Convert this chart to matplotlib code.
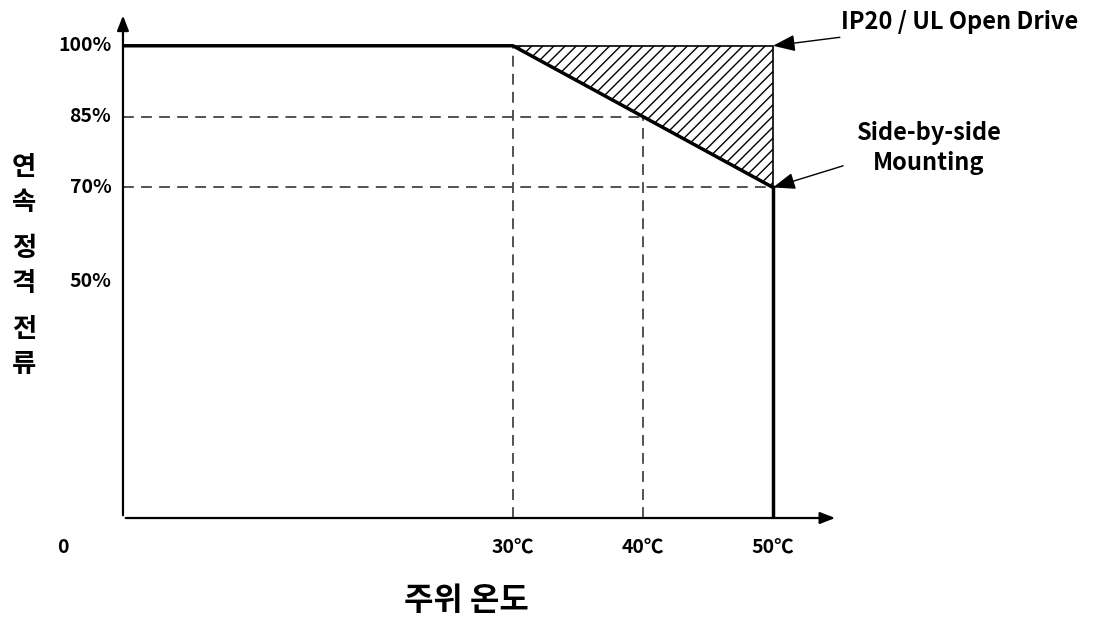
import numpy as np
import matplotlib.pyplot as plt
from matplotlib.patches import Polygon

plt.rcParams['font.family'] = ['Noto Sans CJK KR', 'DejaVu Sans']
plt.rcParams['hatch.linewidth'] = 1.0

# ------------------------
# Derating data
# ------------------------
temps = [0, 30, 50]                 # ambient temperature (degC)
current = [100, 100, 70]            # continuous rated current (%)
y_ticks = [50, 70, 85, 100]
y_tick_labels = ["50%", "70%", "85%", "100%"]
x_ticks = [30, 40, 50]
x_tick_labels = ["30℃", "40℃", "50℃"]
ref_40_current = 85                 # current at 40 degC
y_title_words = ["연속", "정격", "전류"]

fig = plt.figure(figsize=(10.98, 6.2), dpi=100)
ax = fig.add_axes([0.112, 0.1645, 0.663, 0.8226])
ax.set_xlim(0, 56)
ax.set_ylim(0, 108)
ax.axis("off")

dash = dict(color="#444444", lw=1.3, ls=(0, (6, 4)))

# guide lines
ax.plot([temps[1], temps[1]], [0, current[1]], **dash)
ax.plot([x_ticks[1], x_ticks[1]], [0, ref_40_current], **dash)
ax.plot([0, x_ticks[1]], [ref_40_current, ref_40_current], **dash)
ax.plot([0, temps[2]], [current[2], current[2]], **dash)

# hatched open-drive region
tri = Polygon([[temps[1], current[1]], [temps[2], current[0]], [temps[2], current[2]]],
              closed=True, facecolor="white", edgecolor="black", lw=1.2, hatch="///")
ax.add_patch(tri)

# derating curve
ax.plot(temps, current, color="black", lw=2.5, solid_capstyle="butt")
ax.plot([temps[2], temps[2]], [0, current[2]], color="black", lw=2.5)

# axes with arrowheads
ax.annotate("", xy=(55, 0), xytext=(0, 0),
            arrowprops=dict(arrowstyle="-|>,head_length=0.9,head_width=0.35", color="black", lw=1.6),
            annotation_clip=False)
ax.annotate("", xy=(0, 107), xytext=(0, 0),
            arrowprops=dict(arrowstyle="-|>,head_length=0.9,head_width=0.35", color="black", lw=1.6),
            annotation_clip=False)

# tick labels
for v, lab in zip(y_ticks, y_tick_labels):
    ax.text(-0.9, v, lab, ha="right", va="center", fontsize=14, fontweight="bold")
for v, lab in zip(x_ticks, x_tick_labels):
    ax.text(v, -6.3, lab, ha="center", va="center", fontsize=14, fontweight="bold")
ax.text(-4.6, -6.3, "0", ha="center", va="center", fontsize=14, fontweight="bold")

# annotations
ax.annotate("IP20 / UL Open Drive", xy=(temps[2], current[0]), xytext=(55.2, 105.0),
            ha="left", va="center", fontsize=17, fontweight="bold",
            arrowprops=dict(arrowstyle="-|>,head_length=0.8,head_width=0.3", color="black", lw=1.0,
                            shrinkA=2, shrinkB=0),
            annotation_clip=False)
ax.annotate("Side-by-side\nMounting", xy=(temps[2], current[2]), xytext=(62.0, 78.3),
            ha="center", va="center", fontsize=17, fontweight="bold", linespacing=1.3,
            arrowprops=dict(arrowstyle="-|>,head_length=0.8,head_width=0.3", color="black", lw=1.0,
                            shrinkA=8, shrinkB=0, relpos=(0.0, 0.25)),
            annotation_clip=False)

# axis titles
ax.text(26.4, -17.5, "주위 온도", ha="center", va="center", fontsize=23, fontweight="bold")

# vertical y title, one upright character at a time
y0 = 0.73
for word in y_title_words:
    for ch in word:
        fig.text(0.022, y0, ch, ha="center", va="center", fontsize=19, fontweight="bold")
        y0 -= 0.056
    y0 -= 0.019

fig.savefig("out.png", dpi=100)
